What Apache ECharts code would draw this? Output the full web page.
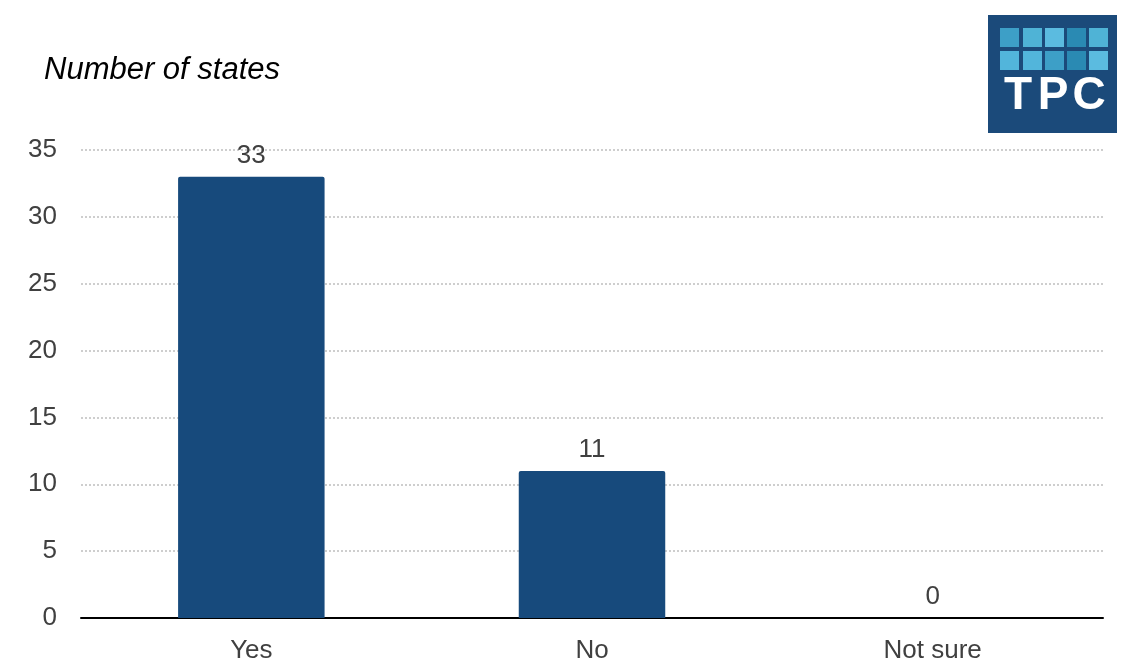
<!DOCTYPE html>
<html>
<head>
<meta charset="utf-8">
<script src="https://cdn.jsdelivr.net/npm/echarts@6/dist/echarts.min.js"></script>
<style>
html,body{margin:0;padding:0;background:#fff;}
#chart{width:1121px;height:665px;}
</style>
</head>
<body>
<div id="chart"></div>
<script>
const categories = ['Yes', 'No', 'Not sure'];
const values = [33, 11, 0];
const yTicks = { min: 0, max: 35, interval: 5 };
const title = 'Number of states';

const chart = echarts.init(document.getElementById('chart'));
const font = 'Arial, "Liberation Sans", sans-serif';

// logo squares colours
const sqColors = [
  ['#3d9fc7', '#4fb3d6', '#5bbbe0', '#2a8ab3', '#4fb3d6'],
  ['#52b5db', '#52b5db', '#3d9fc7', '#2a8ab3', '#5bbbe0']
];
const sqX = [1000, 1023, 1045, 1067, 1089];
const sqY = [28, 51];
const logoEls = [{
  type: 'rect', shape: { x: 988, y: 15, width: 129, height: 118 },
  style: { fill: '#1b4a7a' }, silent: true
}];
sqY.forEach((y, r) => sqX.forEach((x, c) => {
  logoEls.push({ type: 'rect', shape: { x: x, y: y, width: 19, height: 19 }, style: { fill: sqColors[r][c] }, silent: true });
}));
[['T', 1018], ['P', 1053], ['C', 1089]].forEach(([ch, x]) => {
  logoEls.push({
    type: 'text', x: x, y: 96,
    style: { text: ch, fill: '#ffffff', font: 'bold 46px "Liberation Sans", Arial, sans-serif', textAlign: 'center', textVerticalAlign: 'middle' },
    silent: true
  });
});

chart.setOption({
  animation: false,
  backgroundColor: '#ffffff',
  title: {
    text: title, left: 39, top: 50,
    textStyle: { fontFamily: font, fontStyle: 'italic', fontWeight: 'normal', fontSize: 31, color: '#000000' }
  },
  graphic: logoEls,
  grid: { left: 81, right: 18, top: 150, bottom: 47, containLabel: false },
  xAxis: {
    type: 'category', data: categories,
    axisLine: { show: true, lineStyle: { color: '#000000', width: 2 } },
    axisTick: { show: false },
    axisLabel: { fontFamily: font, fontSize: 26, color: '#404040', margin: 20 }
  },
  yAxis: {
    type: 'value', min: yTicks.min, max: yTicks.max, interval: yTicks.interval,
    axisLine: { show: false }, axisTick: { show: false },
    axisLabel: { fontFamily: font, fontSize: 26, color: '#404040', margin: 24 },
    splitLine: { lineStyle: { color: '#bfbfbf', type: [2, 2], width: 1.5 } }
  },
  series: [{
    type: 'bar', data: values, barWidth: '43%',
    itemStyle: { color: '#174a7c', borderRadius: [2, 2, 0, 0] },
    label: { show: true, position: 'top', distance: 8, fontFamily: font, fontSize: 26, color: '#404040' }
  }]
});
</script>
</body>
</html>
